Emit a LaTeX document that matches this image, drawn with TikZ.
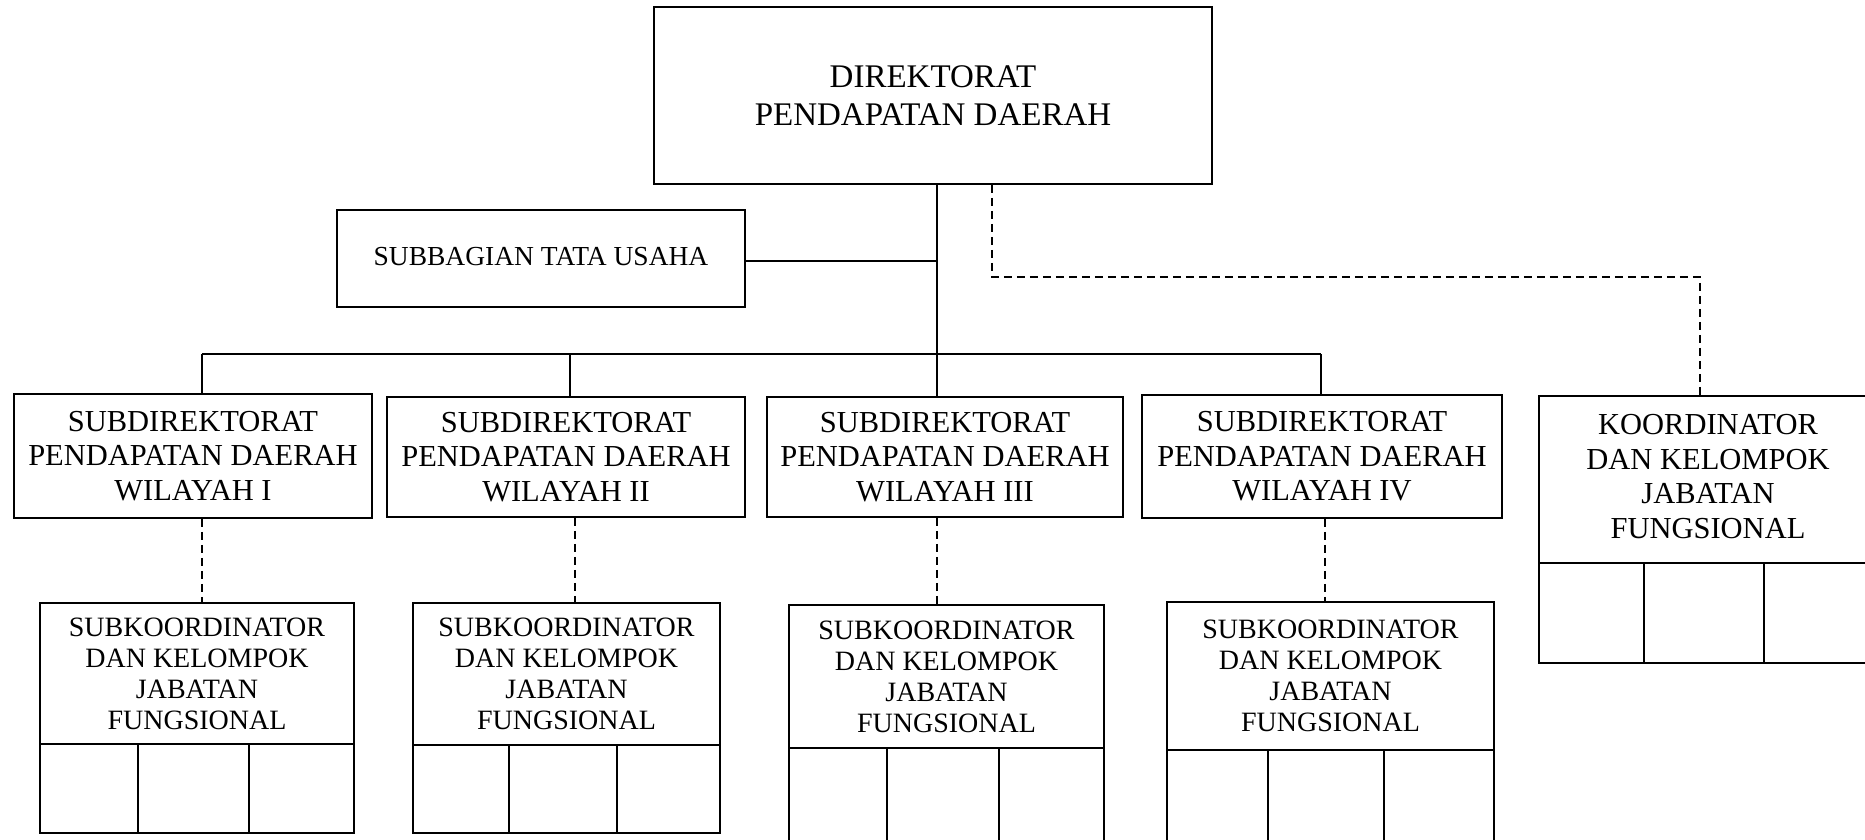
\documentclass[tikz,border=0pt]{standalone}
\usepackage{fontspec}
\setmainfont{Liberation Serif}
\newcommand\ftopfont{\fontsize{33}{38}\selectfont}
\newcommand\fsdfont{\fontsize{30.5}{34.5}\selectfont}
\newcommand\fscfont{\fontsize{28}{31}\selectfont}
\newcommand\fkofont{\fontsize{30.5}{34.5}\selectfont}
\newcommand\fsbfont{\fontsize{27.5}{31}\selectfont}
\tikzset{
  box/.style={draw=black, line width=1.8pt, inner sep=0pt, align=center, text=black},
  lnk/.style={draw=black, line width=1.6pt},
  dsh/.style={draw=black, line width=1.5pt, dash pattern=on 8pt off 5pt},
  colline/.style={draw=black, line width=1.8pt},
}
\begin{document}
\begin{tikzpicture}[x=1pt,y=-1pt]
\path[use as bounding box] (0,0) rectangle (1865,840);
\clip (0,0) rectangle (1865,840);
\fill[white] (0,0) rectangle (1865,840);

% top
\node[box, minimum width=558pt, minimum height=177pt, font=\ftopfont] (dir) at (933,95.5) {DIREKTORAT\\PENDAPATAN DAERAH};
\node[box, minimum width=408pt, minimum height=97pt, font=\fsbfont] (tu) at (541,258.5) {\raisebox{4pt}{SUBBAGIAN TATA USAHA}};

% subdirektorat
\node[box, minimum width=358pt, minimum height=124pt, font=\fsdfont] (sd1) at (193,456) {SUBDIREKTORAT\\PENDAPATAN DAERAH\\WILAYAH I};
\node[box, minimum width=358pt, minimum height=120pt, font=\fsdfont] (sd2) at (566,457) {SUBDIREKTORAT\\PENDAPATAN DAERAH\\WILAYAH II};
\node[box, minimum width=356pt, minimum height=120pt, font=\fsdfont] (sd3) at (945,457) {SUBDIREKTORAT\\PENDAPATAN DAERAH\\WILAYAH III};
\node[box, minimum width=360pt, minimum height=123pt, font=\fsdfont] (sd4) at (1322,456.5) {SUBDIREKTORAT\\PENDAPATAN DAERAH\\WILAYAH IV};

% koordinator
\node[box, minimum width=338pt, minimum height=167pt, font=\fkofont] (ko) at (1708,479.5) {\begin{tabular}{@{}c@{}}KOORDINATOR\\DAN KELOMPOK\\JABATAN\\FUNGSIONAL\end{tabular}};
\node[box, minimum width=338pt, minimum height=100pt] (kob) at (1708,613) {};
\draw[colline] (1644,563) -- (1644,663);
\draw[colline] (1764,563) -- (1764,663);

% subkoordinator
\node[box, minimum width=314pt, minimum height=141pt, font=\fscfont] (sc1) at (197,673.5) {SUBKOORDINATOR\\DAN KELOMPOK\\JABATAN\\FUNGSIONAL};
\node[box, minimum width=314pt, minimum height=89pt] (sc1b) at (197,788.5) {};
\draw[colline] (138,744) -- (138,833);
\draw[colline] (249,744) -- (249,833);

\node[box, minimum width=307pt, minimum height=142pt, font=\fscfont] (sc2) at (566.5,674) {SUBKOORDINATOR\\DAN KELOMPOK\\JABATAN\\FUNGSIONAL};
\node[box, minimum width=307pt, minimum height=88pt] (sc2b) at (566.5,789) {};
\draw[colline] (509,745) -- (509,833);
\draw[colline] (617,745) -- (617,833);

\node[box, minimum width=315pt, minimum height=143pt, font=\fscfont] (sc3) at (946.5,676.5) {SUBKOORDINATOR\\DAN KELOMPOK\\JABATAN\\FUNGSIONAL};
\node[box, minimum width=315pt, minimum height=132pt] (sc3b) at (946.5,814) {};
\draw[colline] (887,748) -- (887,880);
\draw[colline] (999,748) -- (999,880);

\node[box, minimum width=327pt, minimum height=148pt, font=\fscfont] (sc4) at (1330.5,676) {SUBKOORDINATOR\\DAN KELOMPOK\\JABATAN\\FUNGSIONAL};
\node[box, minimum width=327pt, minimum height=130pt] (sc4b) at (1330.5,815) {};
\draw[colline] (1268,750) -- (1268,880);
\draw[colline] (1384,750) -- (1384,880);

% coordinates for connectors
\coordinate (trunk) at (937,354);
\coordinate (tuj) at (937,261);
\coordinate (b1) at (202,354);
\coordinate (b2) at (570,354);
\coordinate (b4) at (1321,354);
\coordinate (v1) at (202,520);
\coordinate (v2) at (575,520);
\coordinate (v3) at (937,520);
\coordinate (v4) at (1325,520);
\coordinate (e1) at (992,277);
\coordinate (e2) at (1700,277);

% solid connectors
\draw[lnk] (dir.south -| trunk) -- (trunk);
\draw[lnk] (tu.east |- tuj) -- (tuj);
\draw[lnk] (b1) -- (b4);
\draw[lnk] (b1) -- (sd1.north -| b1);
\draw[lnk] (b2) -- (sd2.north -| b2);
\draw[lnk] (trunk) -- (sd3.north -| trunk);
\draw[lnk] (b4) -- (sd4.north -| b4);

% dashed connectors
\draw[dsh] (sd1.south -| v1) -- (sc1.north -| v1);
\draw[dsh] (sd2.south -| v2) -- (sc2.north -| v2);
\draw[dsh] (sd3.south -| v3) -- (sc3.north -| v3);
\draw[dsh] (sd4.south -| v4) -- (sc4.north -| v4);
\draw[dsh] (dir.south -| e1) -- (e1) -- (e2) -- (ko.north -| e2);
\end{tikzpicture}
\end{document}
